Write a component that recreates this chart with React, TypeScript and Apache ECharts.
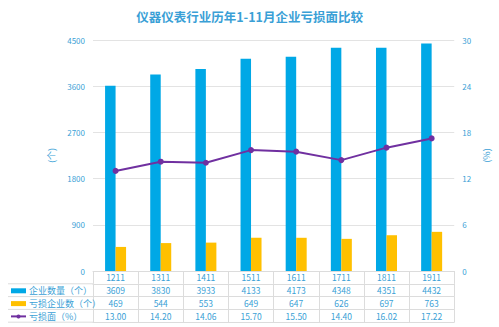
import React, { useEffect, useRef } from "react";
import * as echarts from "echarts";

const categories = ["1211", "1311", "1411", "1511", "1611", "1711", "1811", "1911"];
const companyCount = [3609, 3830, 3933, 4133, 4173, 4348, 4351, 4432];
const lossCount = [469, 544, 553, 649, 647, 626, 697, 763];
const lossRate = [13.0, 14.2, 14.06, 15.7, 15.5, 14.4, 16.02, 17.22];
const seriesNames = ["企业数量（个）", "亏损企业数（个）", "亏损面（%）"];
const titleText = "仪器仪表行业历年1-11月企业亏损面比较";

const BLUE = "#00A8E6";
const YELLOW = "#FFC000";
const PURPLE = "#7030A0";
const TEXT = "#3A9FD6";
const LINE = "#dcdcdc";
const FONT = "'Noto Sans CJK SC', 'Noto Sans', sans-serif";

export default function App() {
  const ref = useRef<HTMLDivElement>(null);
  useEffect(() => {
    if (!ref.current) return;
    const chart = echarts.init(ref.current, undefined, { renderer: "svg" });
    const rowH = 12.8;
    const tableRows: ((i: number) => string)[] = [
      (i) => categories[i],
      (i) => String(companyCount[i]),
      (i) => String(lossCount[i]),
      (i) => lossRate[i].toFixed(2),
    ];
    const xAxes: any[] = tableRows.map((fmt, k) => ({
      type: "category",
      data: categories,
      gridIndex: 0,
      position: "bottom",
      offset: k * rowH,
      axisLine: { show: true, onZero: false, lineStyle: { color: LINE, width: 1 } },
      axisTick: { show: true, interval: 0, length: rowH, lineStyle: { color: LINE } },
      axisLabel: {
        show: true,
        interval: 0,
        margin: 2,
        color: TEXT,
        fontSize: 8.5,
        fontFamily: FONT,
        formatter: (_v: string, i: number) => fmt(i),
      },
      splitLine: { show: false },
    }));
    xAxes.push({
      type: "category",
      data: categories,
      gridIndex: 0,
      position: "bottom",
      offset: 4 * rowH,
      axisLine: { show: true, onZero: false, lineStyle: { color: LINE, width: 1 } },
      axisTick: { show: false },
      axisLabel: { show: false },
    });
    const gridBottomY = 271;
    const leftLines = [1, 2, 3, 4].map((k) => ({
      type: "line",
      shape: { x1: 8, y1: gridBottomY + k * rowH, x2: 93, y2: gridBottomY + k * rowH },
      style: { stroke: LINE, lineWidth: 1 },
      silent: true,
    }));
    chart.setOption({
      animation: false,
      backgroundColor: "#ffffff",
      title: {
        text: titleText,
        left: "center",
        top: 5,
        textStyle: { color: TEXT, fontSize: 12.5, fontWeight: "bold", fontFamily: FONT },
      },
      grid: { left: 93, right: 39, top: 40, bottom: 327 - gridBottomY, containLabel: false },
      legend: {
        orient: "vertical",
        left: 10,
        top: gridBottomY + rowH + 1,
        padding: 0,
        itemWidth: 15,
        itemHeight: 5,
        itemGap: 0.8,
        textStyle: { color: TEXT, fontSize: 9, lineHeight: 12, fontFamily: FONT, padding: [0, 0, 0, -2] },
        data: [
          { name: seriesNames[0], icon: "rect" },
          { name: seriesNames[1], icon: "rect" },
          { name: seriesNames[2] },
        ],
      },
      xAxis: xAxes,
      yAxis: [
        {
          type: "value",
          min: 0,
          max: 4500,
          interval: 900,
          name: "(个)",
          nameLocation: "middle",
          nameRotate: 90,
          nameGap: 34,
          nameTextStyle: { color: TEXT, fontSize: 9, fontFamily: FONT },
          axisLine: { show: false },
          axisTick: { show: false },
          axisLabel: { color: TEXT, fontSize: 8, margin: 8, fontFamily: FONT, formatter: (v: number) => String(v) },
          splitLine: { lineStyle: { color: "#e3e3e3", width: 1 } },
        },
        {
          type: "value",
          min: 0,
          max: 30,
          interval: 6,
          name: "(%)",
          nameLocation: "middle",
          nameRotate: 90,
          nameGap: 22,
          nameTextStyle: { color: TEXT, fontSize: 9, fontFamily: FONT },
          axisLine: { show: false },
          axisTick: { show: false },
          axisLabel: { color: TEXT, fontSize: 8, margin: 8, fontFamily: FONT },
          splitLine: { show: false },
        },
      ],
      series: [
        {
          name: seriesNames[0],
          type: "bar",
          xAxisIndex: 0,
          yAxisIndex: 0,
          data: companyCount,
          barWidth: 10.5,
          barGap: "0%",
          itemStyle: { color: BLUE },
        },
        {
          name: seriesNames[1],
          type: "bar",
          xAxisIndex: 0,
          yAxisIndex: 0,
          data: lossCount,
          barWidth: 10.5,
          barGap: "0%",
          itemStyle: { color: YELLOW },
        },
        {
          name: seriesNames[2],
          type: "line",
          xAxisIndex: 0,
          yAxisIndex: 1,
          data: lossRate,
          symbol: "circle",
          symbolSize: 6,
          lineStyle: { color: PURPLE, width: 2 },
          itemStyle: { color: PURPLE },
        },
      ],
      graphic: leftLines,
    });
    return () => chart.dispose();
  }, []);
  return (
    <div
      ref={ref}
      style={{ position: "absolute", left: 0, top: 0, width: 499, height: 327, background: "#fff" }}
    />
  );
}
